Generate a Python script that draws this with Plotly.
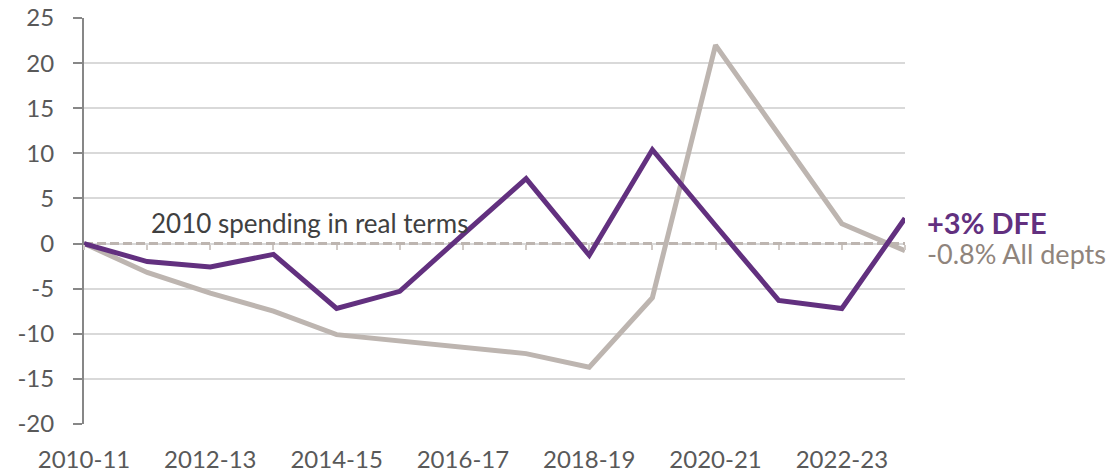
import plotly.graph_objects as go

years = ["2010-11", "2011-12", "2012-13", "2013-14", "2014-15", "2015-16", "2016-17",
         "2017-18", "2018-19", "2019-20", "2020-21", "2021-22", "2022-23", "2023-24"]
dfe = [0, -2.0, -2.6, -1.2, -7.2, -5.3, 1.0, 7.2, -1.3, 10.4, 2.0, -6.3, -7.2, 2.8]
all_depts = [0, -3.2, -5.5, -7.5, -10.1, -10.8, -11.5, -12.2, -13.7, -6.0, 22.0, 12.0, 2.2, -0.8]
baseline = [0] * len(years)
y_ticks = [-20, -15, -10, -5, 0, 5, 10, 15, 20, 25]
y_ticktext = ["-20", "-15", "-10", "-5", "0", "5", "10", "15", "20", "25"]
label_years = years[::2]

PURPLE = "#62307f"
GREY = "#bdb5b0"
FONT = "Lato"
y_min, y_max = -20.005, 25.005

fig = go.Figure()
fig.add_trace(go.Scatter(x=years, y=baseline, mode="lines", xaxis="x", yaxis="y",
                         line=dict(color=GREY, width=3, dash="9px,4px"), hoverinfo="skip",
                         showlegend=False))
fig.add_trace(go.Scatter(x=years, y=all_depts, mode="lines", xaxis="x2", yaxis="y",
                         line=dict(color=GREY, width=5), showlegend=False))
fig.add_trace(go.Scatter(x=years, y=dfe, mode="lines", xaxis="x2", yaxis="y",
                         line=dict(color=PURPLE, width=5), showlegend=False))

fig.add_annotation(x=years[1], y=0, xref="x", yref="y", text="2010 spending in real terms",
                   showarrow=False, xanchor="left", yanchor="bottom", xshift=2, yshift=3,
                   font=dict(family=FONT, size=26, color="#404040"))
fig.add_annotation(x=years[-1], y=dfe[-1], xref="x", yref="y", text="<b>+3% DFE</b>",
                   showarrow=False, xanchor="left", yanchor="middle", xshift=20, yshift=-4,
                   font=dict(family=FONT, size=29, color=PURPLE))
fig.add_annotation(x=years[-1], y=all_depts[-1], xref="x", yref="y", text="-0.8% All depts",
                   showarrow=False, xanchor="left", yanchor="middle", xshift=20, yshift=-3,
                   font=dict(family=FONT, size=27, color="#8f847c"))

fig.update_layout(
    width=1114, height=476,
    margin=dict(l=84, r=209, t=18, b=52),
    paper_bgcolor="white", plot_bgcolor="white",
    font=dict(family=FONT, size=24, color="#595959"),
    xaxis=dict(type="category", categoryorder="array", categoryarray=years,
               range=[0, len(years) - 1], tickmode="array", tickvals=label_years,
               ticktext=label_years, ticks="outside", ticklen=14, tickcolor="rgba(0,0,0,0)",
               showgrid=False, showline=False, zeroline=False, automargin=False,
               tickfont=dict(family=FONT, size=24, color="#595959")),
    xaxis2=dict(type="category", categoryorder="array", categoryarray=years,
                overlaying="x", matches="x", anchor="free",
                position=(0 - y_min) / (y_max - y_min), automargin=False,
                tickmode="array", tickvals=years, showticklabels=False,
                ticks="outside", ticklen=5, tickwidth=2, tickcolor="#d0cac6",
                showgrid=False, showline=False, zeroline=False),
    yaxis=dict(range=[y_min, y_max], tickmode="array", tickvals=y_ticks, ticktext=y_ticktext,
               showgrid=True, gridcolor="#d9d9d9", gridwidth=2, zeroline=False,
               showline=True, linecolor="#878787", linewidth=2, automargin=False,
               ticks="outside", ticklen=9, tickwidth=2, tickcolor="#878787",
               ticklabelstandoff=14, ticklabeloverflow="allow",
               tickfont=dict(family=FONT, size=24, color="#595959")),
)

fig.write_html("out.html", config={"displayModeBar": False},
               post_script="document.body.style.margin='0';document.body.style.padding='0';")
